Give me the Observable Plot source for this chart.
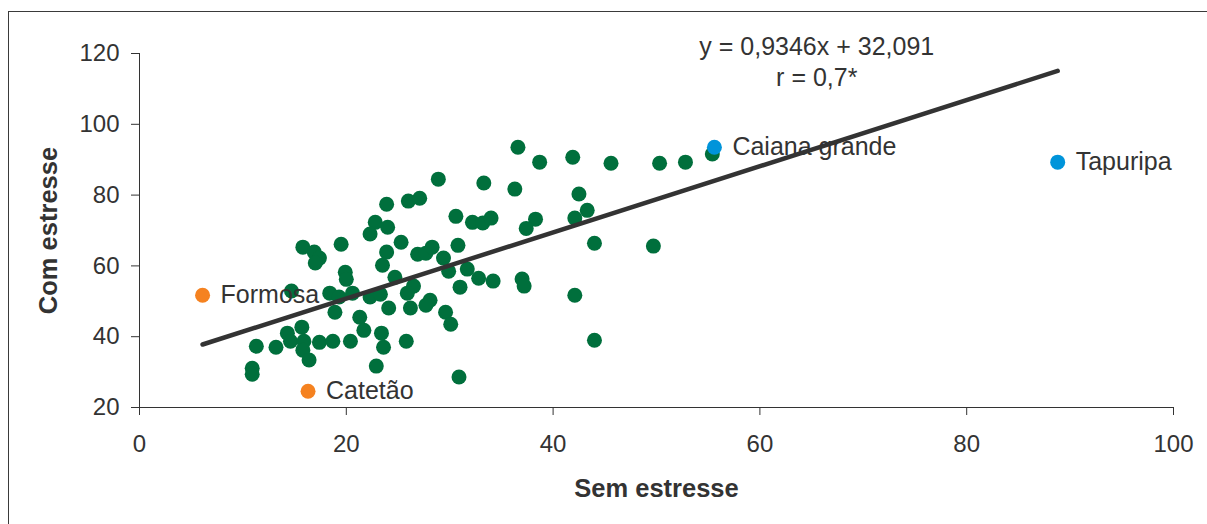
<!DOCTYPE html>
<html>
<head>
<meta charset="utf-8">
<script src="https://cdn.jsdelivr.net/npm/d3@7"></script>
<script src="https://cdn.jsdelivr.net/npm/@observablehq/plot@0.6"></script>
<style>
  html, body { margin: 0; padding: 0; background: #fff; }
  #wrap { position: relative; width: 1207px; height: 524px; overflow: hidden; }
  #frame { position: absolute; left: 8px; top: 11px; width: 1400px; height: 700px;
           border-top: 1px solid #3a3a3a; border-left: 1px solid #3a3a3a; }
  #chart { position: absolute; left: 0; top: 0; }
</style>
</head>
<body>
<div id="wrap"><div id="frame"></div><div id="chart"></div></div>
<script>
// ---- data ----
const semEstresse = [36.6, 38.7, 41.9, 45.6, 50.3, 52.8, 55.4, 28.9, 33.3, 36.3,
  42.5, 43.3, 42.1, 23.9, 26.0, 27.1, 30.6, 32.2, 33.2, 34.0,
  38.3, 37.4, 22.8, 24.0, 22.3, 25.3, 19.5, 15.8, 16.9, 17.4,
  17.0, 23.9, 23.5, 24.7, 19.9, 20.0, 26.9, 27.7, 28.3, 29.4,
  30.8, 44.0, 49.7, 29.9, 31.7, 32.8, 34.2, 37.0, 37.2, 31.0,
  42.1, 26.5, 28.1, 27.7, 29.6, 30.1, 44.0, 30.9, 14.7, 18.4,
  19.3, 20.6, 22.3, 23.3, 25.9, 24.1, 26.2, 18.9, 21.3, 21.7,
  23.4, 23.6, 25.8, 15.7, 14.3, 14.6, 11.3, 13.2, 15.9, 15.8,
  16.4, 17.4, 18.7, 20.4, 22.9, 10.9, 10.9];
const comEstresse = [93.5, 89.3, 90.7, 89.0, 89.0, 89.3, 91.6, 84.5, 83.4, 81.7,
  80.3, 75.7, 73.5, 77.4, 78.3, 79.1, 74.0, 72.3, 72.1, 73.5,
  73.2, 70.6, 72.3, 70.9, 69.0, 66.7, 66.1, 65.3, 63.9, 62.2,
  60.8, 63.9, 60.2, 56.8, 58.2, 56.2, 63.3, 63.6, 65.3, 62.2,
  65.8, 66.4, 65.6, 58.5, 59.1, 56.5, 55.7, 56.3, 54.3, 54.0,
  51.7, 54.3, 50.3, 48.9, 46.9, 43.5, 39.0, 28.6, 52.9, 52.3,
  51.2, 52.3, 51.2, 52.0, 52.3, 48.1, 48.1, 46.9, 45.5, 41.8,
  41.0, 37.0, 38.7, 42.7, 41.0, 38.7, 37.3, 37.0, 38.7, 36.2,
  33.4, 38.4, 38.7, 38.7, 31.7, 31.1, 29.4];

const destaqueNomes = ["Formosa", "Catetão", "Caiana grande", "Tapuripa"];
const destaqueSem   = [6.1, 16.3, 55.6, 88.8];
const destaqueCom   = [51.7, 24.6, 93.5, 89.3];
const destaqueCor   = ["#F58220", "#F58220", "#0094DA", "#0094DA"];

const inclinacao = 0.9346;
const intercepto = 32.091;
const anotacoes = ["y = 0,9346x + 32,091", "r = 0,7*"];

const xTicks = [0, 20, 40, 60, 80, 100];
const yTicks = [20, 40, 60, 80, 100, 120];
const tituloX = "Sem estresse";
const tituloY = "Com estresse";

// ---- build tables ----
const verdes = semEstresse.map((x, i) => ({x, y: comEstresse[i]}));
const destaques = destaqueNomes.map((n, i) => ({nome: n, x: destaqueSem[i], y: destaqueCom[i], cor: destaqueCor[i]}));
const todosX = semEstresse.concat(destaqueSem);
const [xmin, xmax] = d3.extent(todosX);
const reta = [xmin, xmax].map(x => ({x, y: inclinacao * x + intercepto}));
const anot = anotacoes.map((t, i) => ({t, i}));

const W = 1207, H = 524;
const chart = Plot.plot({
  width: W,
  height: H,
  marginLeft: 139,
  marginRight: 34,
  marginTop: 53,
  marginBottom: 117,
  style: {fontFamily: "'Liberation Sans', Arial, Helvetica, sans-serif", fontSize: "24px", color: "#333", background: "transparent"},
  x: {domain: [0, 100], axis: null},
  y: {domain: [20, 120], axis: null},
  marks: [
    Plot.ruleX([0], {stroke: "#333", strokeWidth: 1}),
    Plot.ruleY([20], {stroke: "#333", strokeWidth: 1}),
    Plot.axisX({ticks: xTicks, tickSize: 8, tickPadding: 19, label: null, stroke: "#333", fill: "#333", fontSize: 24, tickFormat: d => String(d)}),
    Plot.axisY({ticks: yTicks, tickSize: 8, tickPadding: 12, label: null, stroke: "#333", fill: "#333", fontSize: 24, tickFormat: d => String(d)}),
    Plot.dot(verdes, {x: "x", y: "y", r: 7.5, fill: "#006F3C", stroke: null}),
    Plot.dot(destaques, {x: "x", y: "y", r: 7.5, fill: "cor", stroke: null}),
    Plot.text(destaques, {x: "x", y: "y", text: "nome", textAnchor: "start", dx: 18, fill: "#333", fontSize: 25, lineAnchor: "middle"}),
    Plot.line(reta, {x: "x", y: "y", stroke: "#333", strokeWidth: 4.5, strokeLinecap: "round"}),
    Plot.text(anot, {x: () => 65.5, y: d => 119.5 - d.i * 8.6, text: "t", textAnchor: "middle", lineAnchor: "bottom", fill: "#333", fontSize: 25}),
    Plot.text([tituloX], {frameAnchor: "bottom", dy: 81, text: d => d, fontWeight: "bold", fill: "#333", fontSize: 25.5, textAnchor: "middle", lineAnchor: "middle"}),
    Plot.text([tituloY], {frameAnchor: "left", dx: -91, rotate: -90, text: d => d, fontWeight: "bold", fill: "#333", fontSize: 25.5, textAnchor: "middle", lineAnchor: "middle"})
  ]
});
document.getElementById("chart").appendChild(chart);
</script>
</body>
</html>
